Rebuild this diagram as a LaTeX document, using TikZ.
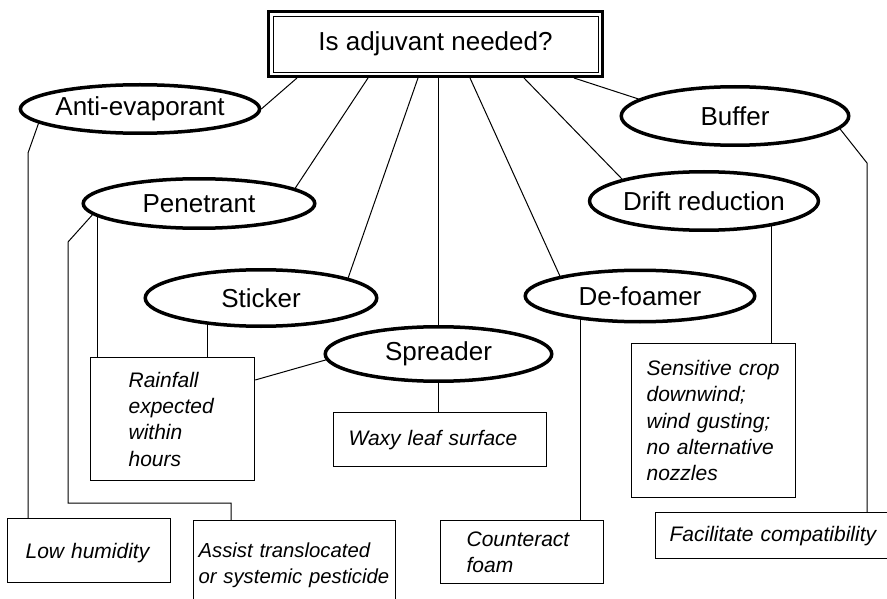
\documentclass[tikz,border=0pt]{standalone}
\usepackage{fontspec}
\setmainfont{Liberation Sans}
\usetikzlibrary{shapes.geometric,calc}
\hyphenpenalty=10000
\exhyphenpenalty=10000
\begin{document}
\begin{tikzpicture}[x=1pt,y=-1pt,
  oval/.style={ellipse, draw, line width=3.5pt, inner sep=0pt, font=\fontsize{26}{30}\selectfont},
  cbox/.style={draw, line width=1.2pt, inner ysep=0pt, align=left, anchor=north west, font=\fontsize{21}{26.3}\selectfont\itshape},
  link/.style={line width=1pt}]
\useasboundingbox (0,0) rectangle (887,599);
\fill[white] (0,0) rectangle (887,599);
\clip (0,0) rectangle (887,599);

% title
\node[draw, line width=3pt, minimum width=334pt, minimum height=65pt, inner sep=0pt,
      font=\fontsize{26}{30}\selectfont] (top) at (435.5,44) {Is adjuvant needed?};
\draw[line width=0.9pt] ($(top.north west)+(6,6)$) rectangle ($(top.south east)+(-6,-6)$);

% ellipses
\node[oval, minimum width=232.5pt, minimum height=48.5pt] (anti) at (140,109) {Anti-evaporant};
\node[oval, minimum width=231.5pt, minimum height=49.5pt] (pen) at (199,203.5) {Penetrant};
\node[oval, minimum width=231.5pt, minimum height=56.5pt] (sticker) at (261,298) {Sticker};
\node[oval, minimum width=226.5pt, minimum height=54.5pt] (spreader) at (438.5,354) {Spreader};
\node[oval, minimum width=227.5pt, minimum height=58.5pt] (buffer) at (735,116) {Buffer};
\node[oval, minimum width=226.5pt, minimum height=58.5pt] (drift) at (704,201) {Drift reduction};
\node[oval, minimum width=229.5pt, minimum height=51.5pt] (defoam) at (640,296) {De-foamer};

% condition boxes
\node[cbox, text width=88pt, inner xsep=38pt, minimum height=123pt] (rain) at (90,357) {Rainfall\\expected\\within\\hours};
\node[cbox, text width=183pt, inner xsep=15pt, minimum height=54pt] (waxy) at (333,412) {Waxy leaf surface};
\node[cbox, text width=127pt, inner xsep=18pt, minimum height=64pt, text depth=0pt] (low) at (7,518) {Low humidity};
\node[cbox, text width=192pt, inner xsep=5pt, minimum height=89pt, font=\fontsize{20.3}{26}\selectfont\itshape] (assist) at (193,520) {Assist translocated\\or systemic pesticide};
\node[cbox, text width=111pt, inner xsep=26pt, minimum height=63pt] (foam) at (440,520) {Counteract\\foam};
\node[cbox, text width=134pt, inner xsep=15pt, minimum height=154pt] (sens) at (631,343) {Sensitive crop\\downwind;\\wind gusting;\\no alternative\\nozzles};
\node[cbox, text width=208pt, inner xsep=14pt, minimum height=46pt] (fac) at (655,512) {Facilitate compatibility};

% connectors from the question
\draw[link] ([xshift=30pt]top.south west) -- (anti.east);
\draw[link] ([xshift=101pt]top.south west) -- (pen.9);
\draw[link] ([xshift=151pt]top.south west) -- (sticker.13);
\draw[link] (spreader.north) -- (spreader.north |- top.south);
\draw[link] ([xshift=203pt]top.south west) -- (defoam.166);
\draw[link] ([xshift=257pt]top.south west) -- (drift.165);
\draw[link] ([xshift=307pt]top.south west) -- (buffer.170);

% connectors to conditions
\draw[link] (anti.188) -- ($(low.north west)+(21,-365)$) -- ([xshift=21pt]low.north west);
\draw[link] (pen.186) -- ($(assist.north west)+(-125,-278)$) |- ($(assist.north west)+(38,-17)$) -- ([xshift=38pt]assist.north west);
\draw[link] ([xshift=7.5pt]rain.north west) -- ([xshift=7.5pt]rain.north west |- pen.186);
\draw[link] ([xshift=117.5pt]rain.north west) -- ([xshift=117.5pt]rain.north west |- sticker.205);
\draw[link] (spreader.183) -- ([yshift=-23pt]rain.north east);
\draw[link] (spreader.south) -- (spreader.south |- waxy.north);
\draw[link] ([xshift=-24pt]foam.north east) -- ([xshift=-24pt]foam.north east |- defoam.200);
\draw[link] ([xshift=-25pt]sens.north east) -- ([xshift=-25pt]sens.north east |- drift.-20);
\draw[link] (buffer.-7) -- ($(fac.north west)+(212,-349)$) -- ([xshift=212pt]fac.north west);
\end{tikzpicture}
\end{document}
